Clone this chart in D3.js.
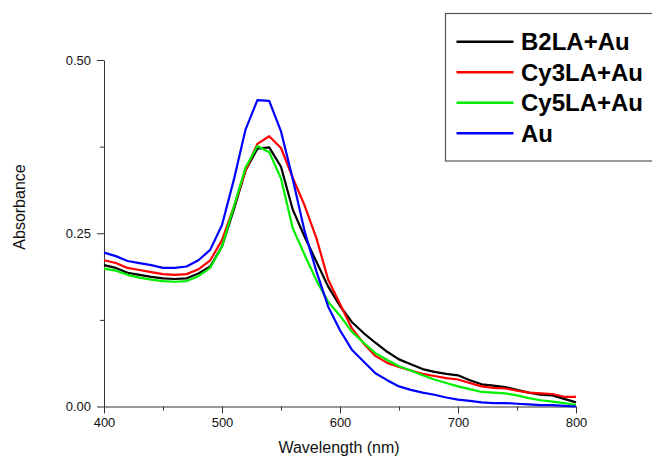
<!DOCTYPE html>
<html><head><meta charset="utf-8">
<script src="https://cdn.jsdelivr.net/npm/d3@7"></script>
<style>body{margin:0;background:#fff}svg{display:block;font-family:Arial,"Liberation Sans",sans-serif}</style>
</head><body><svg id="c" width="652" height="463"></svg>
<script>
const wavelengths = d3.range(400, 801, 10);
const seriesNames = ["B2LA+Au", "Cy3LA+Au", "Cy5LA+Au", "Au"];
const seriesColors = ["#000000", "#ff0000", "#00ee00", "#0000ff"];
const b2la = [0.204,0.200,0.193,0.190,0.187,0.185,0.184,0.185,0.192,0.202,0.231,0.284,0.341,0.372,0.374,0.346,0.284,0.245,0.209,0.173,0.145,0.122,0.106,0.092,0.079,0.068,0.061,0.054,0.050,0.047,0.045,0.038,0.032,0.030,0.028,0.024,0.020,0.017,0.016,0.011,0.006];
const cy3la = [0.211,0.207,0.200,0.197,0.194,0.191,0.190,0.191,0.198,0.211,0.240,0.288,0.341,0.379,0.390,0.373,0.330,0.290,0.243,0.183,0.148,0.113,0.091,0.073,0.063,0.057,0.052,0.047,0.044,0.041,0.039,0.034,0.029,0.027,0.026,0.023,0.020,0.019,0.018,0.014,0.014];
const cy5la = [0.199,0.196,0.190,0.186,0.183,0.181,0.180,0.181,0.188,0.200,0.231,0.288,0.345,0.376,0.367,0.329,0.257,0.219,0.182,0.151,0.131,0.108,0.092,0.077,0.067,0.058,0.052,0.045,0.039,0.034,0.029,0.025,0.021,0.020,0.019,0.016,0.012,0.009,0.007,0.005,0.002];
const au = [0.222,0.217,0.210,0.207,0.204,0.200,0.200,0.202,0.211,0.226,0.262,0.327,0.400,0.442,0.441,0.397,0.328,0.253,0.195,0.144,0.110,0.082,0.065,0.048,0.038,0.029,0.024,0.020,0.017,0.013,0.010,0.008,0.006,0.005,0.005,0.004,0.003,0.002,0.002,0.001,0.000];
const xTicks = [400, 500, 600, 700, 800];
const xMinor = [450, 550, 650, 750];
const yTicks = [0, 0.25, 0.5];
const yMinor = [0.125, 0.375];
const allSeries = [b2la, cy3la, cy5la, au];

const svg = d3.select("#c");
const x = d3.scaleLinear().domain([400, 800]).range([104, 576]);
const y = d3.scaleLinear().domain([0, 0.5]).range([406.5, 60]);
const axisColor = "#333";

// minor ticks
svg.append("g").attr("transform", "translate(0,406.5)")
  .call(d3.axisBottom(x).tickValues(xMinor).tickSize(4).tickFormat(""))
  .call(g => g.select(".domain").remove());
svg.append("g").attr("transform", "translate(104,0)")
  .call(d3.axisLeft(y).tickValues(yMinor).tickSize(4).tickFormat(""))
  .call(g => g.select(".domain").remove());

const gx = svg.append("g").attr("transform", "translate(0,406.5)")
  .call(d3.axisBottom(x).tickValues(xTicks).tickSize(7).tickSizeOuter(0).tickPadding(4).tickFormat(d3.format("d")));
const gy = svg.append("g").attr("transform", "translate(104,0)")
  .call(d3.axisLeft(y).tickValues(yTicks).tickSize(7).tickSizeOuter(0).tickPadding(6).tickFormat(d3.format(".2f")));
svg.selectAll(".tick line, .domain").attr("stroke", axisColor);
[gx, gy].forEach(g => g.selectAll("text").attr("font-size", 13).attr("fill", "#111").attr("font-family", "Arial, 'Liberation Sans', sans-serif"));

const line = d3.line().x((d, i) => x(wavelengths[i])).y(d => y(d));
allSeries.forEach((s, k) => {
  svg.append("path").datum(s).attr("d", line).attr("fill", "none")
    .attr("stroke", seriesColors[k]).attr("stroke-width", 2.2).attr("stroke-linejoin", "round");
});

svg.append("text").attr("x", 339).attr("y", 453).attr("text-anchor", "middle")
  .attr("font-size", 16).attr("fill", "#111").text("Wavelength (nm)");
svg.append("text").attr("transform", "translate(25,207) rotate(-90)").attr("text-anchor", "middle")
  .attr("font-size", 16).attr("fill", "#111").text("Absorbance");

// legend
const lg = svg.append("g");
lg.append("rect").attr("x", 445.5).attr("y", 13.5).attr("width", 220).attr("height", 147.5)
  .attr("fill", "#fff").attr("stroke", "#555").attr("stroke-width", 1.2);
seriesNames.forEach((n, k) => {
  const yy = 41.7 + k * 30.5;
  lg.append("line").attr("x1", 456.5).attr("x2", 513.5).attr("y1", yy).attr("y2", yy)
    .attr("stroke", seriesColors[k]).attr("stroke-width", 2.5);
  lg.append("text").attr("x", 521).attr("y", yy + 8.5).attr("font-size", 24).attr("font-weight", "bold")
    .attr("fill", "#000").text(n);
});
</script></body></html>
